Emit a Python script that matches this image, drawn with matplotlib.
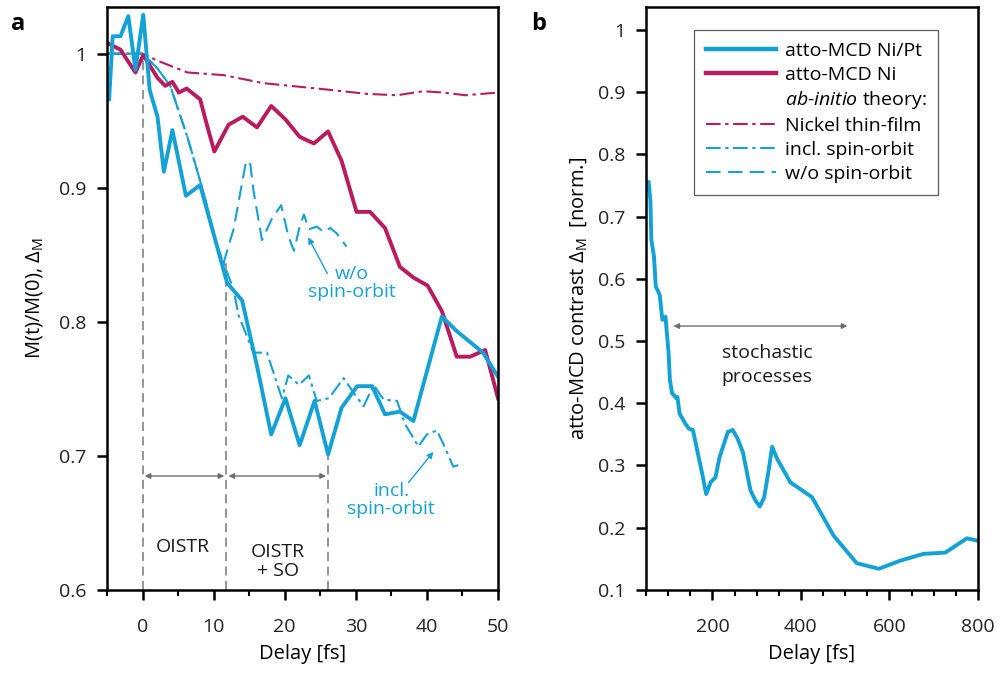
import numpy as np
import matplotlib
matplotlib.use("Agg")
import matplotlib.pyplot as plt
from matplotlib.lines import Line2D

plt.rcParams['font.family'] = ['Open Sans', 'DejaVu Sans']
plt.rcParams['mathtext.fontset'] = 'custom'
plt.rcParams['mathtext.rm'] = 'Open Sans'
plt.rcParams['mathtext.it'] = 'Open Sans:italic'

BLUE = '#14a2d6'
MAGENTA = '#b81c5e'
GRAY = '#8c8c8c'

# --- panel a: atto-MCD Ni/Pt (measured)
nipt_t = [-4.7, -4.2, -3.1, -2.0, -1.0, 0.1, 1.0, 2.1, 3.0, 4.2, 6.1, 8.1, 11.9, 14.0,
          16.1, 18.1, 20.1, 22.1, 24.2, 26.1, 28.0, 30.2, 32.3, 34.1, 36.2, 38.1,
          42.1, 44.2, 47.9, 50.0]
nipt_m = [0.966, 1.013, 1.013, 1.028, 0.988, 1.029, 0.973, 0.953, 0.912, 0.943, 0.894,
          0.902, 0.829, 0.816, 0.767, 0.716, 0.743, 0.708, 0.741, 0.701, 0.736, 0.752,
          0.752, 0.731, 0.733, 0.726, 0.804, 0.793, 0.777, 0.759]

# atto-MCD Ni (measured)
ni_t = [-5.0, -3.1, -2.0, -1.0, 0.1, 2.1, 3.2, 4.2, 5.1, 6.2, 8.1, 9.1, 10.1, 12.1, 14.1,
        16.1, 18.1, 20.1, 22.1, 24.1, 26.1, 28.0, 30.1, 32.0, 34.1, 36.2, 38.1, 40.1,
        42.1, 44.2, 46.1, 48.2, 50.0]
ni_m = [1.008, 1.003, 0.994, 0.986, 0.999, 0.982, 0.976, 0.979, 0.971, 0.974, 0.966,
        0.946, 0.927, 0.947, 0.953, 0.945, 0.961, 0.951, 0.938, 0.933, 0.942, 0.920,
        0.882, 0.882, 0.870, 0.841, 0.833, 0.827, 0.808, 0.774, 0.774, 0.779, 0.743]

# ab-initio: nickel thin film
film_t = [-5.0, 0.0, 2.0, 6.3, 11.4, 17.0, 20.8, 26.4, 31.6, 35.8, 39.5, 42.3, 45.4, 50.0]
film_m = [1.0, 1.0, 0.995, 0.986, 0.984, 0.978, 0.976, 0.973, 0.970, 0.969, 0.972,
          0.971, 0.969, 0.971]

# ab-initio: including spin-orbit
so_t = [-5.0, 0.0, 2.1, 3.9, 6.3, 8.6, 10.5, 11.4, 12.8, 13.5, 15.6, 17.5, 19.6, 20.5,
        22.0, 23.4, 24.5, 26.2, 28.3, 29.7, 31.1, 32.5, 33.9, 35.8, 36.9, 38.8, 40.0,
        41.4, 42.3, 43.7, 44.4, 45.1]
so_m = [1.0, 1.0, 0.989, 0.976, 0.938, 0.896, 0.856, 0.844, 0.824, 0.805, 0.777, 0.777,
        0.743, 0.760, 0.753, 0.760, 0.741, 0.743, 0.758, 0.747, 0.737, 0.753, 0.742,
        0.741, 0.724, 0.707, 0.716, 0.719, 0.709, 0.692, 0.693, 0.693]

# ab-initio: without spin-orbit
noso_t = [-5.0, 0.0, 2.1, 3.9, 6.3, 8.6, 10.5, 11.4, 12.8, 14.5, 15.1, 15.6, 16.8, 18.2,
          19.5, 20.5, 21.3, 22.1, 22.7, 23.4, 24.5, 25.5, 26.4, 27.3, 28.7]
noso_m = [1.0, 1.0, 0.989, 0.976, 0.938, 0.896, 0.856, 0.844, 0.869, 0.918, 0.920, 0.898,
          0.861, 0.877, 0.887, 0.864, 0.853, 0.871, 0.880, 0.869, 0.871, 0.867, 0.870,
          0.866, 0.856]

# regime boundaries [fs]
t_start, t_oistr, t_so = 0, 11.8, 26.1

# --- panel b: long delay scan
long_t = [56, 60, 62, 68, 72, 81, 87, 94, 101, 104, 109, 119, 121, 126, 139, 147, 156,
          169, 177, 186, 196, 207, 216, 235, 246, 257, 269, 286, 297, 307, 317, 327, 335,
          346, 376, 425, 474, 526, 576, 624, 677, 726, 775, 800]
long_c = [0.755, 0.725, 0.663, 0.636, 0.588, 0.574, 0.534, 0.539, 0.481, 0.437, 0.416,
          0.408, 0.410, 0.383, 0.367, 0.359, 0.357, 0.313, 0.287, 0.254, 0.273, 0.281,
          0.313, 0.354, 0.357, 0.343, 0.321, 0.260, 0.244, 0.234, 0.249, 0.292, 0.330,
          0.311, 0.273, 0.249, 0.187, 0.143, 0.134, 0.147, 0.158, 0.160, 0.183, 0.179]

DASHDOT = [7, 2.2, 1.6, 2.2]
DASHED = [7, 3.5]

fig = plt.figure(figsize=(10, 6.75), dpi=100)
ax1 = fig.add_axes([0.107, 0.126, 0.391, 0.864])
ax2 = fig.add_axes([0.646, 0.126, 0.332, 0.864])

# panel a
ax1.plot(film_t, film_m, color=MAGENTA, lw=1.5, dashes=DASHDOT)
ax1.plot(noso_t, noso_m, color=BLUE, lw=1.5, dashes=DASHED)
ax1.plot(so_t, so_m, color=BLUE, lw=1.5, dashes=DASHDOT)
ax1.plot(ni_t, ni_m, color=MAGENTA, lw=2.8)
ax1.plot(nipt_t, nipt_m, color=BLUE, lw=2.8)

for t, top in [(t_start, 0.995), (t_oistr, 0.844), (t_so, 0.70)]:
    ax1.plot([t, t], [0.6, top], color=GRAY, lw=1.3, ls=(0, (5, 3)), zorder=0.5)

arr = dict(arrowstyle='<|-|>', color='#6e6e6e', lw=1.0, mutation_scale=8,
           shrinkA=0, shrinkB=0)
ax1.annotate('', xy=(t_start + 0.3, 0.685), xytext=(t_oistr - 0.3, 0.685), arrowprops=arr)
ax1.annotate('', xy=(t_oistr + 0.3, 0.685), xytext=(t_so - 0.3, 0.685), arrowprops=arr)
ax1.text(5.7, 0.632, 'OISTR', ha='center', va='center', fontsize=14, color='#1a1a1a')
ax1.text(19.0, 0.621, 'OISTR\n+ SO', ha='center', va='center', fontsize=14,
         color='#1a1a1a', linespacing=1.05)

pointer = dict(arrowstyle='-|>', color=BLUE, lw=1.0, mutation_scale=9,
               shrinkA=0, shrinkB=0)
ax1.annotate('', xy=(23.3, 0.863), xytext=(26.0, 0.836), arrowprops=pointer)
ax1.text(29.4, 0.829, 'w/o\nspin-orbit', ha='center', va='center', fontsize=14,
         color=BLUE, linespacing=1.0)
ax1.annotate('', xy=(40.9, 0.703), xytext=(37.4, 0.680), arrowprops=pointer)
ax1.text(35.0, 0.667, 'incl.\nspin-orbit', ha='center', va='center', fontsize=14,
         color=BLUE, linespacing=1.0)

ax1.set_xlim(-5, 50)
ax1.set_ylim(0.6, 1.035)
ax1.set_xticks([0, 10, 20, 30, 40, 50])
ax1.set_xticks(np.arange(-5, 50, 5), minor=True)
ax1.set_yticks([0.6, 0.7, 0.8, 0.9, 1.0])
ax1.set_yticklabels(['0.6', '0.7', '0.8', '0.9', '1'])
ax1.set_xlabel('Delay [fs]', fontsize=14.5, labelpad=6)
ax1.set_ylabel(r'M(t)/M(0), $\Delta_{\mathrm{M}}$', fontsize=14.5, labelpad=10)

# panel b
ax2.plot(long_t, long_c, color=BLUE, lw=2.8)
ax2.annotate('', xy=(112, 0.524), xytext=(505, 0.524), arrowprops=arr)
ax2.text(324, 0.461, 'stochastic\nprocesses', ha='center', va='center', fontsize=14,
         color='#1a1a1a', linespacing=1.45)

ax2.set_xlim(50, 800)
ax2.set_ylim(0.1, 1.037)
ax2.set_xticks([200, 400, 600, 800])
ax2.set_xticks(np.arange(50, 800, 50), minor=True)
ax2.set_yticks(np.arange(0.1, 1.01, 0.1))
ax2.set_yticklabels(['0.1', '0.2', '0.3', '0.4', '0.5', '0.6', '0.7', '0.8', '0.9', '1'])
ax2.set_xlabel('Delay [fs]', fontsize=14.5, labelpad=6)
ax2.set_ylabel(r'atto-MCD contrast $\Delta_{\mathrm{M}}$  [norm.]', fontsize=14.5,
               labelpad=6)

handles = [
    Line2D([], [], color=BLUE, lw=3.2),
    Line2D([], [], color=MAGENTA, lw=3.2),
    Line2D([], [], color='none'),
    Line2D([], [], color=MAGENTA, lw=1.5, dashes=DASHDOT),
    Line2D([], [], color=BLUE, lw=1.5, dashes=DASHDOT),
    Line2D([], [], color=BLUE, lw=1.5, dashes=DASHED),
]
labels = ['atto-MCD Ni/Pt', 'atto-MCD Ni', r'$ab$-$initio$ theory:',
          'Nickel thin-film', 'incl. spin-orbit', 'w/o spin-orbit']
leg = ax2.legend(handles, labels, loc='upper left', bbox_to_anchor=(0.145, 0.96),
                 fontsize=14, frameon=True, fancybox=False, edgecolor='#333333',
                 handlelength=3.6, handletextpad=0.45, labelspacing=0.3,
                 borderpad=0.6, borderaxespad=0)
leg.get_frame().set_linewidth(0.9)

for ax in (ax1, ax2):
    for sp in ax.spines.values():
        sp.set_linewidth(1.8)
    ax.tick_params(which='major', direction='out', length=7, width=1.8, labelsize=14,
                   labelcolor='#222222')
    ax.tick_params(which='minor', direction='out', length=4.5, width=1.5)
    ax.tick_params(axis='x', which='both', pad=13)
    ax.tick_params(axis='y', which='both', pad=8)

fig.text(0.011, 0.955, 'a', fontsize=17, fontweight='bold')
fig.text(0.531, 0.955, 'b', fontsize=17, fontweight='bold')

fig.savefig('out.png', dpi=100)
